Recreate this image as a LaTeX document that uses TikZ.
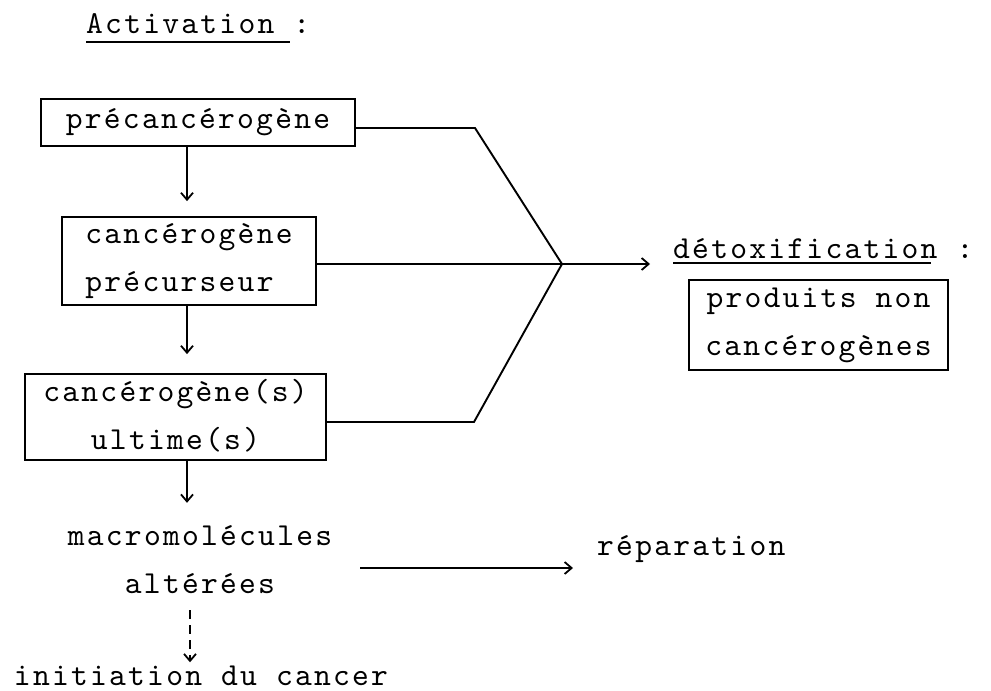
\documentclass[tikz,border=0pt]{standalone}
\usepackage{fontspec}
\newfontfamily\tw{lmmono10-regular}[Extension=.otf, LetterSpace=7]
\usetikzlibrary{arrows.meta}
\newcommand\tst{\rule[-6pt]{0pt}{26pt}}
\begin{document}
\begin{tikzpicture}[x=1pt,y=-1pt,
  txt/.style={inner sep=0pt, font=\tw\fontsize{32}{48}\selectfont},
  box/.style={txt, draw, line width=1.8pt},
  ln/.style={line width=1.9pt},
  arr/.style={ln, -{Straight Barb[length=7pt,width=12pt,line width=1.8pt]}},
  dsh/.style={arr, dash pattern=on 9pt off 6pt},
  ul/.style={line width=1.6pt}]
\useasboundingbox (0,0) rectangle (991,691);
\fill[white] (0,0) rectangle (991,691);

\node[txt, anchor=base west] (act) at (86,33) {Activation :};
\draw[ul] ([yshift=-9pt]act.base west) -- ++(204,0);

\node[box, minimum width=314pt, minimum height=47pt] (b1) at (198,122.5) {\tst précancérogène};
\node[box, align=left, minimum width=254pt, minimum height=88pt] (b2) at (189,261) {\tst cancérogène\\\tst précurseur};
\node[box, align=center, minimum width=301pt, minimum height=86pt] (b3) at (175.5,417) {\tst cancérogène(s)\\\tst ultime(s)};
\node[txt, align=center] (mac) at (200,562) {\tst macromolécules\\\tst altérées};
\node[txt, anchor=base] (init) at (201,685) {initiation du cancer};
\node[txt, anchor=base west] (detox) at (673,258) {détoxification :};
\draw[ul] ([yshift=-5pt]detox.base west) -- ++(258,0);
\node[box, align=center, minimum width=259pt, minimum height=90pt] (b4) at (818.5,325) {\tst produits non\\\tst cancérogènes};
\node[txt, anchor=base west] (rep) at (597,555) {réparation};

\coordinate (ax) at (187,0);
\draw[arr, shorten >=15pt] (b1.south -| ax) -- (b2.north -| ax);
\draw[arr, shorten >=19pt] (b2.south -| ax) -- (b3.north -| ax);
\draw[arr, shorten >=22pt] (b3.south -| ax) -- (mac.north -| ax);
\coordinate (dx) at (190,0);
\draw[dsh, shorten <=11pt, shorten >=3pt] (mac.south -| dx) -- (init.north -| dx);

\coordinate (J) at (562,264);
\coordinate (K1) at (475,128);
\coordinate (K3) at (474,422);
\draw[ln] (b1.east |- K1) -- (K1) -- (J);
\draw[ln] (b3.east |- K3) -- (K3) -- (J);
\draw[arr, shorten >=23pt] (b2.east |- J) -- (detox.west |- J);

\coordinate (r0) at (360,568);
\draw[arr, shorten >=24pt] (r0) -- (rep.west |- r0);
\end{tikzpicture}
\end{document}
